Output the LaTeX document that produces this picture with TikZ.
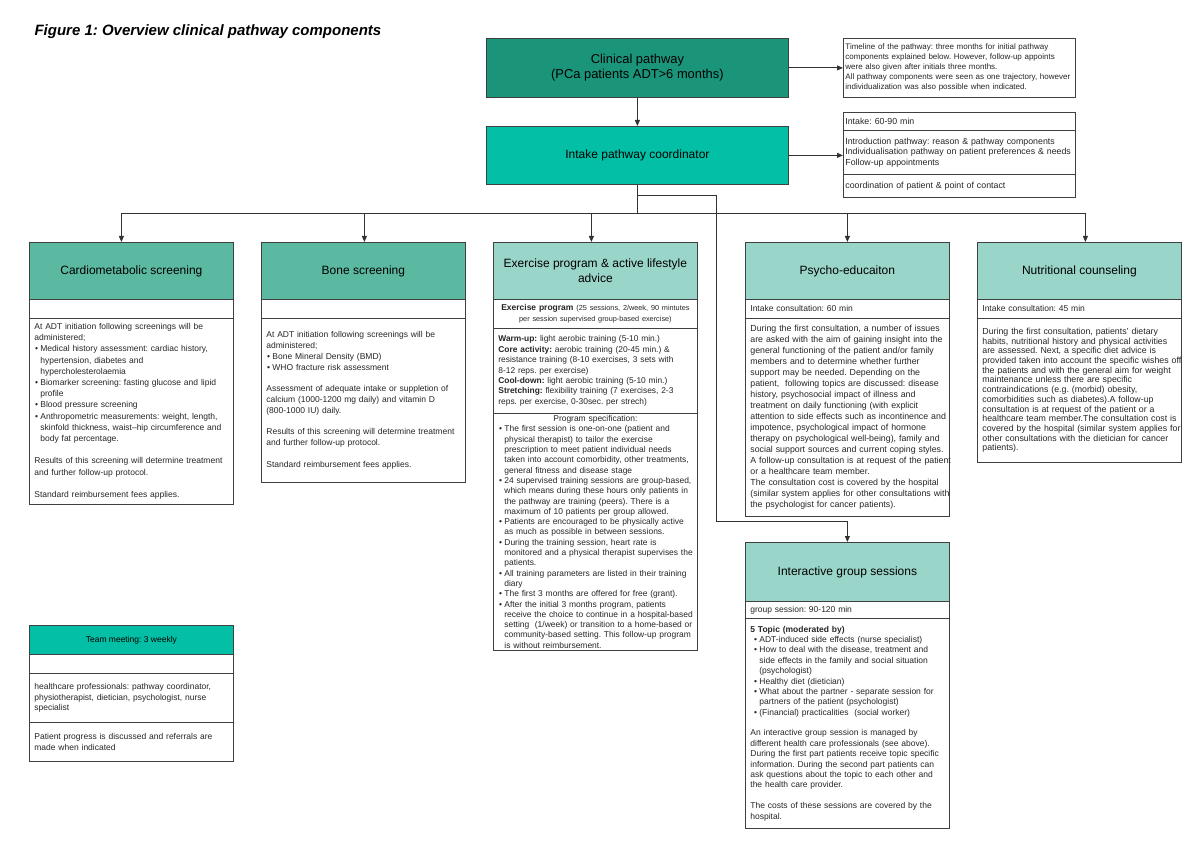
\documentclass[tikz,border=0pt]{standalone}
\usepackage{fontspec}
\setmainfont{Liberation Sans}
\usetikzlibrary{arrows.meta}
\frenchspacing

\definecolor{darkteal}{HTML}{1B957A}
\definecolor{brightteal}{HTML}{03BFA5}
\definecolor{midteal}{HTML}{5CB9A1}
\definecolor{lightteal}{HTML}{9AD5C9}

\newcommand{\itm}{\makebox[6pt][l]{\hspace{0.8pt}\textbullet}}
\newcommand{\cnt}{\hspace*{6pt}}
\newcommand{\ctr}[1]{\makebox[\hsize][c]{#1}}

\tikzset{
  box/.style={draw=black!75, line width=0.8pt, anchor=north west, inner sep=0pt},
  hdr/.style={box, minimum width=204, minimum height=57, align=center,
    font=\fontsize{12}{15}\selectfont},
  ragged/.style={execute at begin node={\parindent=0pt\leftskip=0pt\rightskip=-10pt plus 1fil\relax}},
  cellbase/.style={box, fill=white, text=black!85, inner xsep=5pt,
    text width=194, minimum width=204, font=\fontsize{8.5}{11}\selectfont},
  cell/.style={cellbase, ragged},
  note/.style={box, fill=white, text=black!85, inner xsep=2pt, ragged,
    text width=228, minimum width=232, font=\fontsize{8}{10}\selectfont},
  line/.style={draw=black!80, line width=0.8pt},
  arr/.style={line, -{Triangle[length=6pt,width=5pt]}}
}

\begin{document}
\begin{tikzpicture}[x=1pt,y=-1pt]
\useasboundingbox (0,0) rectangle (1200,850);

\node[anchor=west, font=\fontsize{15}{18}\selectfont\bfseries\itshape] (title) at (31,32)
  {Figure 1: Overview clinical pathway components};

% spine
\node[hdr, fill=darkteal, minimum width=302, minimum height=59, font=\fontsize{12.9}{15.5}\selectfont]
  (clin) at (486,38) {Clinical pathway\\(PCa patients ADT>6 months)};
\node[hdr, fill=brightteal, minimum width=302, minimum height=58] (ipc) at (486,126)
  {Intake pathway coordinator};

\node[note, minimum height=59] (time) at (843,38)
  {Timeline of the pathway: three months for initial pathway\\
   components explained below. However, follow-up appoints\\
   were also given after initials three months.\\
   All pathway components were seen as one trajectory, however\\
   individualization was also possible when indicated.};

\node[note, minimum height=18, font=\fontsize{8.8}{10.6}\selectfont] (ipc-time) at (843,112) {Intake: 60-90 min};
\node[note, minimum height=44, font=\fontsize{8.8}{10.6}\selectfont] (ipc-aim) at (843,130)
  {Introduction pathway: reason \& pathway components\\
   Individualisation pathway on patient preferences \& needs\\
   Follow-up appointments};
\node[note, minimum height=23, font=\fontsize{8.8}{10.6}\selectfont] (ipc-role) at (843,174)
  {coordination of patient \& point of contact};

% Cardiometabolic screening
\node[hdr, fill=midteal] (card) at (29,242) {Cardiometabolic screening};
\node[cell, minimum height=19] (card-row) at (29,299) {};
\node[cell, minimum height=186, font=\fontsize{8.5}{11.2}\selectfont] (card-body) at (29,318)
  {At ADT initiation following screenings will be\\
   administered;\\
   \itm Medical history assessment: cardiac history,\\
   \cnt hypertension, diabetes and\\
   \cnt hypercholesterolaemia\\
   \itm Biomarker screening: fasting glucose and lipid\\
   \cnt profile\\
   \itm Blood pressure screening\\
   \itm Anthropometric measurements: weight, length,\\
   \cnt skinfold thickness, waist--hip circumference and\\
   \cnt body fat percentage.\\[11.2pt]
   Results of this screening will determine treatment\\
   and further follow-up protocol.\\[11.2pt]
   Standard reimbursement fees applies.};

% Bone screening
\node[hdr, fill=midteal] (bone) at (261,242) {Bone screening};
\node[cell, minimum height=19] (bone-row) at (261,299) {};
\node[cell, minimum height=164, font=\fontsize{8.5}{10.8}\selectfont] (bone-body) at (261,318)
  {At ADT initiation following screenings will be\\
   administered;\\
   \itm Bone Mineral Density (BMD)\\
   \itm WHO fracture risk assessment\\[10.8pt]
   Assessment of adequate intake or suppletion of\\
   calcium (1000-1200 mg daily) and vitamin D\\
   (800-1000 IU) daily.\\[10.8pt]
   Results of this screening will determine treatment\\
   and further follow-up protocol.\\[10.8pt]
   Standard reimbursement fees applies.};

% Exercise program
\node[hdr, fill=lightteal] (exer) at (493,242) {Exercise program \& active lifestyle\\advice};
\node[cellbase, minimum height=29, align=center, font=\fontsize{8.5}{10.6}\selectfont] (exer-row) at (493,299)
  {\textbf{Exercise program} {\fontsize{7.3}{10.6}\selectfont(25 sessions, 2/week, 90 mintutes\\
   per session supervised group-based exercise)}};
\node[cell, minimum height=85, font=\fontsize{8.4}{10.4}\selectfont] (exer-plan) at (493,328)
  {\textbf{Warm-up:} light aerobic training (5-10 min.)\\
   \textbf{Core activity:} aerobic training (20-45 min.) \&\\
   resistance training (8-10 exercises, 3 sets with\\
   8-12 reps. per exercise)\\
   \textbf{Cool-down:} light aerobic training (5-10 min.)\\
   \textbf{Stretching:} flexibility training (7 exercises, 2-3\\
   reps. per exercise, 0-30sec. per strech)};
\node[cell, minimum height=237, font=\fontsize{8.45}{10.3}\selectfont] (exer-body) at (493,413)
  {\ctr{Program specification:}\\
   \itm The first session is one-on-one (patient and\\
   \cnt physical therapist) to tailor the exercise\\
   \cnt prescription to meet patient individual needs\\
   \cnt taken into account comorbidity, other treatments,\\
   \cnt general fitness and disease stage\\
   \itm 24 supervised training sessions are group-based,\\
   \cnt which means during these hours only patients in\\
   \cnt the pathway are training (peers). There is a\\
   \cnt maximum of 10 patients per group allowed.\\
   \itm Patients are encouraged to be physically active\\
   \cnt as much as possible in between sessions.\\
   \itm During the training session, heart rate is\\
   \cnt monitored and a physical therapist supervises the\\
   \cnt patients.\\
   \itm All training parameters are listed in their training\\
   \cnt diary\\
   \itm The first 3 months are offered for free (grant).\\
   \itm After the initial 3 months program, patients\\
   \cnt receive the choice to continue in a hospital-based\\
   \cnt setting\ \ (1/week) or transition to a home-based or\\
   \cnt community-based setting. This follow-up program\\
   \cnt is without reimbursement.};

% Psycho-education
\node[hdr, fill=lightteal] (psy) at (745,242) {Psycho-educaiton};
\node[cell, minimum height=19] (psy-row) at (745,299) {Intake consultation: 60 min};
\node[cell, minimum height=198, font=\fontsize{8.8}{11}\selectfont] (psy-body) at (745,318)
  {During the first consultation, a number of issues\\
   are asked with the aim of gaining insight into the\\
   general functioning of the patient and/or family\\
   members and to determine whether further\\
   support may be needed. Depending on the\\
   patient,\ \ following topics are discussed: disease\\
   history, psychosocial impact of illness and\\
   treatment on daily functioning (with explicit\\
   attention to side effects such as incontinence and\\
   impotence, psychological impact of hormone\\
   therapy on psychological well-being), family and\\
   social support sources and current coping styles.\\
   A follow-up consultation is at request of the patient\\
   or a healthcare team member.\\
   The consultation cost is covered by the hospital\\
   (similar system applies for other consultations with\\
   the psychologist for cancer patients).};

% Nutritional counseling
\node[hdr, fill=lightteal] (nutr) at (977,242) {Nutritional counseling};
\node[cell, minimum height=19] (nutr-row) at (977,299) {Intake consultation: 45 min};
\node[cell, minimum height=144, font=\fontsize{8.8}{9.7}\selectfont] (nutr-body) at (977,318)
  {During the first consultation, patients' dietary\\
   habits, nutritional history and physical activities\\
   are assessed. Next, a specific diet advice is\\
   provided taken into account the specific wishes off\\
   the patients and with the general aim for weight\\
   maintenance unless there are specific\\
   contraindications (e.g. (morbid) obesity,\\
   comorbidities such as diabetes).A follow-up\\
   consultation is at request of the patient or a\\
   healthcare team member.The consultation cost is\\
   covered by the hospital (similar system applies for\\
   other consultations with the dietician for cancer\\
   patients).};

% Interactive group sessions
\node[hdr, fill=lightteal, minimum height=59] (igs) at (745,542) {Interactive group sessions};
\node[cell, minimum height=17] (igs-row) at (745,601) {group session: 90-120 min};
\node[cell, minimum height=210, font=\fontsize{8.5}{10.4}\selectfont] (igs-body) at (745,618)
  {\textbf{5 Topic (moderated by)}\\
   \hspace*{3pt}\itm ADT-induced side effects (nurse specialist)\\
   \hspace*{3pt}\itm How to deal with the disease, treatment and\\
   \hspace*{3pt}\cnt side effects in the family and social situation\\
   \hspace*{3pt}\cnt (psychologist)\\
   \hspace*{3pt}\itm Healthy diet (dietician)\\
   \hspace*{3pt}\itm What about the partner - separate session for\\
   \hspace*{3pt}\cnt partners of the patient (psychologist)\\
   \hspace*{3pt}\itm (Financial) practicalities\ \ (social worker)\\[10.4pt]
   An interactive group session is managed by\\
   different health care professionals (see above).\\
   During the first part patients receive topic specific\\
   information. During the second part patients can\\
   ask questions about the topic to each other and\\
   the health care provider.\\[10.4pt]
   The costs of these sessions are covered by the\\
   hospital.};

% Team meeting
\node[hdr, fill=brightteal, minimum height=29, font=\fontsize{8.5}{11}\selectfont] (team) at (29,625)
  {Team meeting: 3 weekly};
\node[cell, minimum height=19] (team-row) at (29,654) {};
\node[cell, minimum height=49, font=\fontsize{8.5}{10.6}\selectfont] (team-who) at (29,673)
  {healthcare professionals: pathway coordinator,\\
   physiotherapist, dietician, psychologist, nurse\\
   specialist};
\node[cell, minimum height=39] (team-aim) at (29,722)
  {Patient progress is discussed and referrals are\\
   made when indicated};

% connectors
\draw[arr] (clin) -- (ipc);
\draw[arr] (clin.east) -- (time.west);
\draw[arr] (ipc.east) -- (ipc.east -| ipc-aim.west);

\coordinate (busy) at (0,213);
\foreach \n/\s in {card/-10, bone/1, exer/-4, psy/0, nutr/6}
  \coordinate (\n-in) at ([xshift=\s pt]\n.north);
\draw[line] (ipc.south) -- (ipc.south |- busy);
\draw[line] (card-in |- busy) -- (nutr-in |- busy);
\foreach \n in {card, bone, exer, psy, nutr}
  \draw[arr] (\n-in |- busy) -- (\n-in);

\coordinate (split) at ([yshift=-11pt]ipc.south);
\coordinate (turn) at (716,521.7);
\draw[arr] (split) -| (turn) -| (igs.north);

\end{tikzpicture}
\end{document}
